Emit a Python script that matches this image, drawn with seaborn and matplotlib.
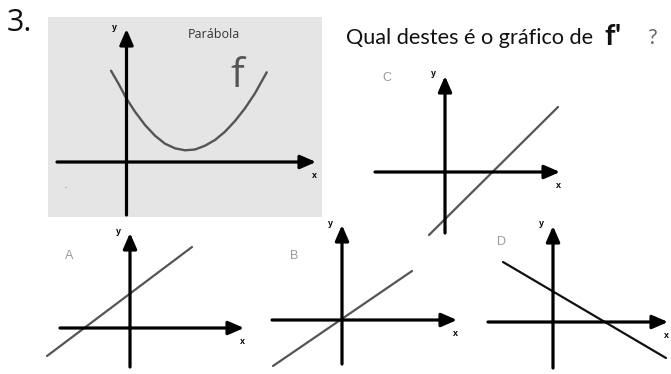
import matplotlib
matplotlib.use("Agg")
import matplotlib.pyplot as plt
import seaborn as sns
import pandas as pd

sns.set_theme(style="white")
plt.rcParams['font.family'] = ['Lato', 'DejaVu Sans']

W, H = 671, 374

# ---------------- data (pixel-unit offsets from each panel's origin) ----------------
parab_x = [-15.5, -8.2, -0.2, 8.5, 18.5, 28.5, 38.5, 48.5, 58.5, 68.5, 78.5, 88.5,
           98.5, 108.5, 118.5, 128.5, 140.2]
parab_y = [91.3, 78.7, 63.7, 50.3, 37, 26.3, 18.3, 13.7, 11.7, 12.5, 16.3, 22,
           30.3, 41, 53.7, 68.7, 89.7]

line_A_x = [-83, 62]
line_A_y = [-28, 81]
line_B_x = [-69, 70]
line_B_y = [-46, 49]
line_C_x = [-16, 113]
line_C_y = [-63, 65]
line_D_x = [-50, 113]
line_D_y = [60, -36]

panel_letters = ["A", "B", "C", "D"]

# panel layout: origin px, box px (x0, x1, y0, y1), x-axis span, y-axis span
panels = {
    "main": dict(origin=(126.5, 162), box=(48, 322, 17, 217), xspan=(-69.5, 189.5), yspan=(-53, 133)),
    "C": dict(origin=(445, 172), box=(365, 570, 65, 245), xspan=(-70, 115), yspan=(-61, 96)),
    "A": dict(origin=(130, 328), box=(35, 255, 222, 374), xspan=(-70, 114), yspan=(-39, 95)),
    "B": dict(origin=(342, 320), box=(262, 470, 215, 374), xspan=(-70, 115), yspan=(-44, 95)),
    "D": dict(origin=(553, 322), box=(480, 671, 216, 374), xspan=(-65, 115), yspan=(-46, 96)),
}

lines = {"A": (line_A_x, line_A_y, "#555555", 1.6),
         "B": (line_B_x, line_B_y, "#555555", 1.6),
         "C": (line_C_x, line_C_y, "#555555", 1.6),
         "D": (line_D_x, line_D_y, "#111111", 1.6)}

letter_pos = {"A": (-61, 72), "B": (-48, 64), "C": (-58, 94), "D": (-51, 80)}

fig = plt.figure(figsize=(W / 100, H / 100), dpi=100)
fig.patch.set_facecolor("white")


def make_axes(p):
    ox, oy = p["origin"]
    x0, x1, y0, y1 = p["box"]
    ax = fig.add_axes([x0 / W, 1 - y1 / H, (x1 - x0) / W, (y1 - y0) / H])
    ax.set_xlim(x0 - ox, x1 - ox)
    ax.set_ylim(oy - y1, oy - y0)
    ax.set_axis_off()
    return ax


def draw_axes(ax, p):
    xa, xb = p["xspan"]
    ya, yb = p["yspan"]
    style = "-|>,head_length=0.55,head_width=0.24"
    ax.annotate("", xy=(xb, 0), xytext=(xa, 0),
                arrowprops=dict(arrowstyle=style, color="black", lw=2.3,
                                mutation_scale=17, shrinkA=0, shrinkB=0),
                annotation_clip=False)
    ax.annotate("", xy=(0, yb), xytext=(0, ya),
                arrowprops=dict(arrowstyle=style, color="black", lw=2.3,
                                mutation_scale=17, shrinkA=0, shrinkB=0),
                annotation_clip=False)
    ax.text(xb - 2, -13, "x", fontsize=6.5, fontweight="bold", family="Liberation Sans",
            ha="center", va="center", color="black")
    ax.text(-12, yb + 2, "y", fontsize=6.5, fontweight="bold", family="Liberation Sans",
            ha="center", va="center", color="black")


# main parabola panel
pm = panels["main"]
axm = make_axes(pm)
axm.set_axis_on()
axm.set_facecolor("#e5e5e5")
axm.set_xticks([])
axm.set_yticks([])
for s in axm.spines.values():
    s.set_visible(False)
df_p = pd.DataFrame({"x": parab_x, "y": parab_y})
sns.lineplot(data=df_p, x="x", y="y", ax=axm, color="#555555", linewidth=1.7,
             sort=False, estimator=None)
axm.set_xlabel("")
axm.set_ylabel("")
draw_axes(axm, pm)
axm.text(87.5, 127, "Parábola", fontsize=9, color="#333333", ha="center", va="center",
         family="Open Sans")
axm.text(110.5, 85, "f", fontsize=29, color="#555555", ha="center", va="center",
         family="Open Sans")
axm.text(-61, -23, ".", fontsize=6, color="#555555", ha="center", va="center")

for key in ["C", "A", "B", "D"]:
    p = panels[key]
    ax = make_axes(p)
    lx, ly, col, lw = lines[key]
    df = pd.DataFrame({"x": lx, "y": ly})
    sns.lineplot(data=df, x="x", y="y", ax=ax, color=col, linewidth=lw,
                 sort=False, estimator=None)
    ax.set_xlabel("")
    ax.set_ylabel("")
    draw_axes(ax, p)
    tx, ty = letter_pos[key]
    ax.text(tx, ty, key, fontsize=9, color="#9a9a9a", ha="center", va="center",
            family="Liberation Sans")

# texts
fig.text(7 / W, 1 - 31 / H, "3.", fontsize=22, color="#111111", ha="left", va="baseline",
         family="Open Sans")
fig.text(346 / W, 1 - 44 / H, "Qual destes é o gráfico de", fontsize=15.6, color="#111111",
         ha="left", va="baseline", family="Lato")
fig.text(604 / W, 1 - 45 / H, "f", fontsize=21, color="#111111", ha="left", va="baseline",
         family="Lato", fontweight="bold")
fig.text(615 / W, 1 - 45 / H, "'", fontsize=21, color="#111111", ha="left", va="baseline",
         family="Lato", fontweight="bold")
fig.text(647 / W, 1 - 44 / H, "?", fontsize=15.6, color="#666666", ha="left", va="baseline",
         family="Lato")

fig.savefig("out.png", dpi=100, facecolor="white")
